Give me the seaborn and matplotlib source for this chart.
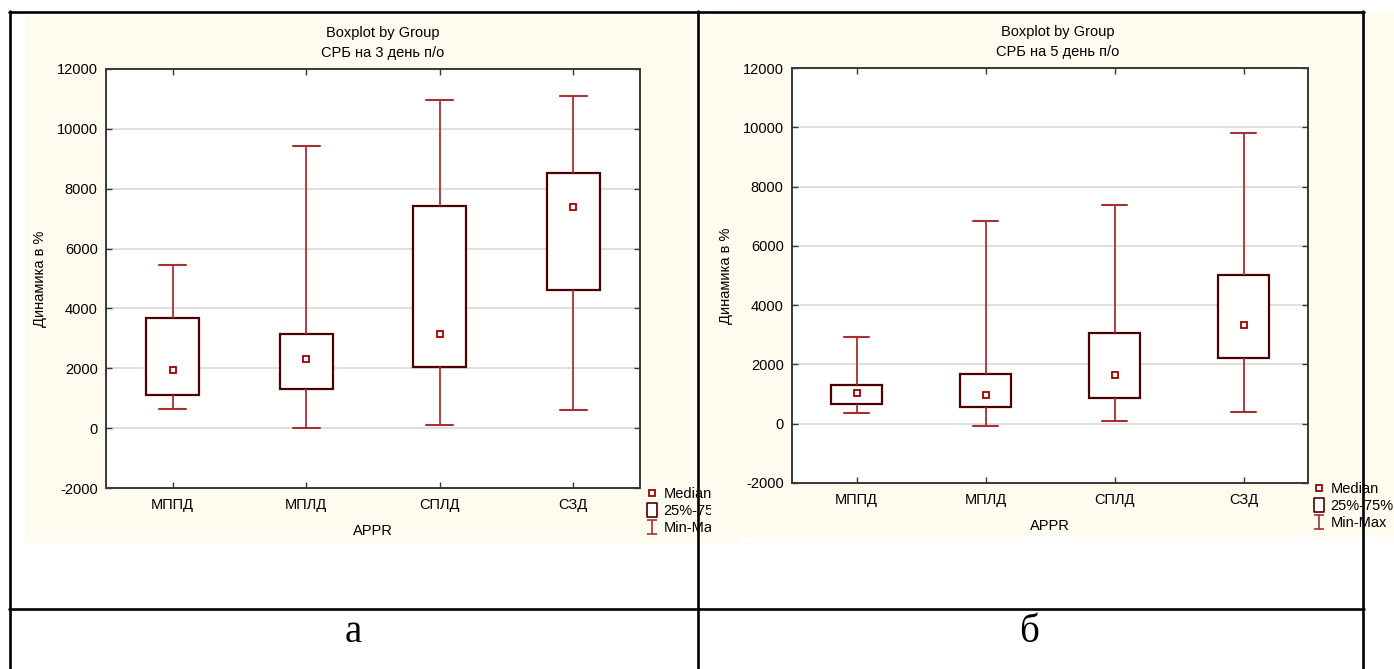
import matplotlib
matplotlib.use("Agg")
import matplotlib.pyplot as plt
import seaborn as sns
import pandas as pd
from matplotlib.lines import Line2D
from matplotlib.patches import Rectangle
from matplotlib.path import Path

# ---------------- data ----------------
groups = ["МППД", "МПЛД", "СПЛД", "СЗД"]

# panel а: СРБ на 3 день п/о
d3_min = [630, 0, 120, 590]
d3_q1 = [1100, 1300, 2030, 4610]
d3_median = [1930, 2310, 3140, 7380]
d3_q3 = [3690, 3160, 7410, 8510]
d3_max = [5440, 9420, 10950, 11100]

# panel б: СРБ на 5 день п/о
d5_min = [350, -70, 80, 380]
d5_q1 = [670, 570, 870, 2210]
d5_median = [1020, 960, 1640, 3340]
d5_q3 = [1290, 1690, 3070, 5010]
d5_max = [2910, 6850, 7370, 9820]

yticks = [-2000, 0, 2000, 4000, 6000, 8000, 10000, 12000]
titles = ["Boxplot by Group\nСРБ на 3 день п/о", "Boxplot by Group\nСРБ на 5 день п/о"]
ylabel = "Динамика в %"
xlabel = "APPR"
legend_labels = ["Median", "25%-75%", "Min-Max"]
captions = ["а", "б"]


def build(mins, q1s, meds, q3s, maxs):
    rows = []
    for g, a, b, c, d, e in zip(groups, mins, q1s, meds, q3s, maxs):
        for v in (a, b, c, d, e):
            rows.append({"APPR": g, "value": v})
    return pd.DataFrame(rows)


df3 = build(d3_min, d3_q1, d3_median, d3_q3, d3_max)
df5 = build(d5_min, d5_q1, d5_median, d5_q3, d5_max)

# ---------------- style ----------------
sns.set_style("white")
plt.rcParams["font.family"] = ["Liberation Sans", "DejaVu Sans"]
plt.rcParams["text.color"] = "black"
plt.rcParams["axes.labelcolor"] = "black"
plt.rcParams["xtick.color"] = "black"
plt.rcParams["ytick.color"] = "black"

W, H = 1394, 669
fig = plt.figure(figsize=(W / 100, H / 100), dpi=100, facecolor="white")


def fr(x0, y0, x1, y1):
    return [x0 / W, 1 - y1 / H, (x1 - x0) / W, (y1 - y0) / H]


CREAM = "#fffbef"
BOX_C = "#4d0000"
WHIS_C = "#a83030"
MED_C = "#a00000"
FS = 10.5

# cream backgrounds
fig.add_artist(Rectangle((25 / W, 1 - 543 / H), 715 / W, 528 / H,
                         transform=fig.transFigure, facecolor=CREAM,
                         edgecolor="none", zorder=1))
fig.add_artist(Rectangle((711 / W, 1 - 537 / H), (W - 711) / W, 524 / H,
                         transform=fig.transFigure, facecolor=CREAM,
                         edgecolor="none", zorder=3))

ax1 = fig.add_axes(fr(106, 69, 640, 488))
ax2 = fig.add_axes(fr(792, 68, 1308, 483))
ax1.set_zorder(2)
ax2.set_zorder(4)

# legend handles
rect_path = Path([(-0.36, -0.5), (0.36, -0.5), (0.36, 0.5), (-0.36, 0.5), (-0.36, -0.5)],
                 [Path.MOVETO, Path.LINETO, Path.LINETO, Path.LINETO, Path.CLOSEPOLY])
ibeam_path = Path([(-0.36, -0.5), (0.36, -0.5), (0, -0.5), (0, 0.5), (-0.36, 0.5), (0.36, 0.5)],
                  [Path.MOVETO, Path.LINETO, Path.MOVETO, Path.LINETO, Path.MOVETO, Path.LINETO])
handles = [
    Line2D([], [], linestyle="none", marker="s", markersize=5, markerfacecolor="white",
           markeredgecolor=MED_C, markeredgewidth=1.3),
    Line2D([], [], linestyle="none", marker=rect_path, markersize=10, markerfacecolor="white",
           markeredgecolor=BOX_C, markeredgewidth=1.2),
    Line2D([], [], linestyle="none", marker=ibeam_path, markersize=10, markerfacecolor="none",
           markeredgecolor=WHIS_C, markeredgewidth=1.2),
]

panels = [
    (ax1, df3, titles[0], (383, 43), 646, 487),
    (ax2, df5, titles[1], (1058, 42), 1313, 482),
]

for ax, df, title, tpos, lx, ly in panels:
    ax.set_facecolor("white")
    sns.boxplot(data=df, x="APPR", y="value", ax=ax, whis=(0, 100), width=0.4,
                showfliers=False, color="white",
                boxprops=dict(facecolor="white", edgecolor=BOX_C, linewidth=1.6),
                whiskerprops=dict(color=WHIS_C, linewidth=1.3),
                capprops=dict(color=WHIS_C, linewidth=1.5),
                medianprops=dict(visible=False))
    sns.pointplot(data=df, x="APPR", y="value", ax=ax, estimator="median",
                  errorbar=None, markers="s", linestyles="none", color=MED_C,
                  markersize=5, markerfacecolor="white", markeredgecolor=MED_C,
                  markeredgewidth=1.3)
    ax.set_xlim(-0.5, 3.5)
    ax.set_ylim(-2000, 12000)
    ax.set_yticks(yticks)
    ax.set_yticklabels([str(t) for t in yticks])
    ax.yaxis.grid(True, color="#dcdcdc", linewidth=1.3)
    ax.xaxis.grid(False)
    ax.set_axisbelow(True)
    for s in ax.spines.values():
        s.set_visible(True)
        s.set_color("#383838")
        s.set_linewidth(1.4)
    ax.tick_params(axis="both", direction="in", length=4, width=1, colors="#383838",
                   labelcolor="black", labelsize=FS, top=True, right=True,
                   bottom=True, left=True)
    ax.tick_params(axis="y", pad=6)
    ax.tick_params(axis="x", pad=7)
    ax.set_ylabel(ylabel, fontsize=FS, labelpad=7, color="black")
    ax.set_xlabel(xlabel, fontsize=FS, labelpad=9, color="black")
    fig.text(tpos[0] / W, 1 - tpos[1] / H, title, ha="center", va="center",
             fontsize=FS, linespacing=1.55, zorder=6, color="black")
    leg = ax.legend(handles, legend_labels, loc="upper left",
                    bbox_to_anchor=(lx / W, 1 - ly / H), bbox_transform=fig.transFigure,
                    frameon=False, fontsize=FS, handlelength=0.8, handletextpad=0.4,
                    labelspacing=0.2, borderpad=0, borderaxespad=0)
    for t in leg.get_texts():
        t.set_color("black")

# table lines
lw = 1.9


def hline(y, x0, x1):
    fig.add_artist(Line2D([x0 / W, x1 / W], [1 - y / H, 1 - y / H], transform=fig.transFigure,
                          color="black", linewidth=lw, zorder=10))


def vline(x, y0, y1):
    fig.add_artist(Line2D([x / W, x / W], [1 - y0 / H, 1 - y1 / H], transform=fig.transFigure,
                          color="black", linewidth=lw, zorder=10))


hline(12, 9, 1364)
hline(609, 9, 1364)
vline(10, 11, 669)
vline(697.5, 11, 669)
vline(1363, 11, 669)

fig.text(353 / W, 1 - 633 / H, captions[0], ha="center", va="center",
         fontsize=28, family=["Liberation Serif", "DejaVu Serif"], zorder=11, color="black")
fig.text(1029 / W, 1 - 632 / H, captions[1], ha="center", va="center",
         fontsize=28, family=["Liberation Serif", "DejaVu Serif"], zorder=11, color="black")

fig.savefig("out.png", dpi=100, facecolor="white")
